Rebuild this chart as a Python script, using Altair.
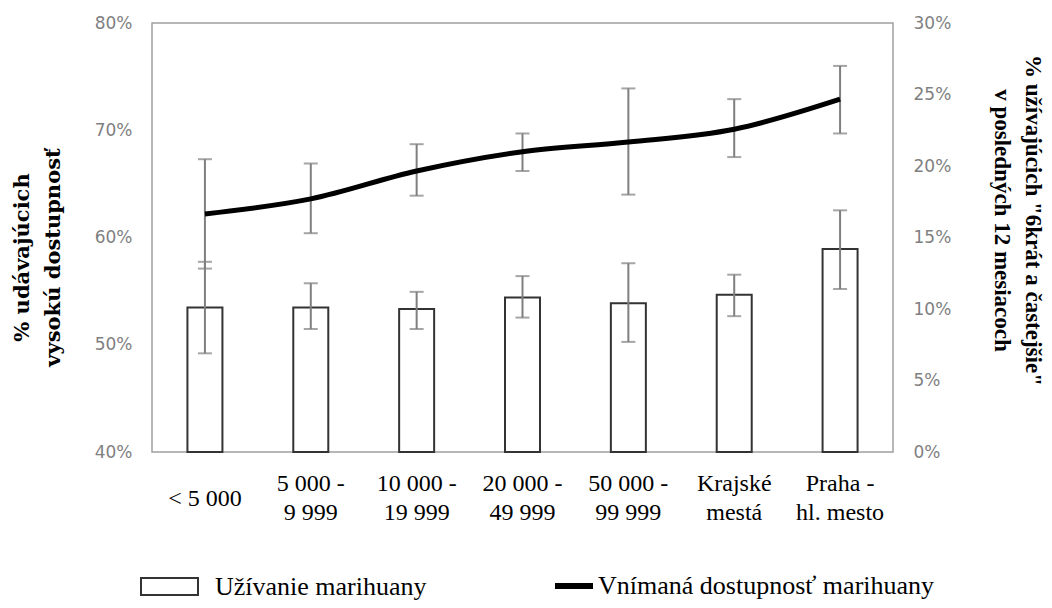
import altair as alt
import pandas as pd

categories = ["< 5 000", "5 000 -\n9 999", "10 000 -\n19 999", "20 000 -\n49 999",
              "50 000 -\n99 999", "Krajské\nmestá", "Praha -\nhl. mesto"]
usage = [10.1, 10.1, 10.0, 10.8, 10.4, 11.0, 14.2]
usage_lo = [6.9, 8.6, 8.6, 9.4, 7.7, 9.5, 11.4]
usage_hi = [13.3, 11.8, 11.2, 12.3, 13.2, 12.4, 16.9]
avail = [62.2, 63.6, 66.2, 68.0, 68.9, 70.1, 72.9]
avail_lo = [57.1, 60.4, 63.9, 66.2, 64.0, 67.5, 69.7]
avail_hi = [67.3, 66.9, 68.7, 69.7, 73.9, 72.9, 76.0]
series_usage = "Užívanie marihuany"
series_avail = "Vnímaná dostupnosť marihuany"
left_title = ["% udávajúcich", "vysokú dostupnosť"]
right_title = ['% užívajúcich "6krát a častejšie"', "v posledných 12 mesiacoch"]
left_ticks = [0.4, 0.5, 0.6, 0.7, 0.8]
right_ticks = [0.0, 0.05, 0.10, 0.15, 0.20, 0.25, 0.30]

df = pd.DataFrame({
    "cat": categories,
    "usage": [v / 100 for v in usage],
    "usage_lo": [v / 100 for v in usage_lo],
    "usage_hi": [v / 100 for v in usage_hi],
    "avail": [v / 100 for v in avail],
    "avail_lo": [v / 100 for v in avail_lo],
    "avail_hi": [v / 100 for v in avail_hi],
    "s1": [series_usage] * len(categories),
    "s2": [series_avail] * len(categories),
})

GRAY = "#7f7f7f"
ERR_W = 2
CAP = 14

x_enc = alt.X("cat:N", sort=categories,
              scale=alt.Scale(paddingInner=0, paddingOuter=0),
              axis=alt.Axis(title=None, labelAngle=0, labelFont="Liberation Serif",
                            labelFontSize=24, labelColor="black", labelLineHeight=29,
                            labelBaseline="middle",
                            labelPadding={"condition": {"test": "indexof(datum.value, '\\n') < 0",
                                                        "value": 46},
                                          "value": 31},
                            ticks=False, tickSize=0, domain=False, labelLimit=300,
                            labelExpr="split(datum.label, '\\n')"))

right_axis = alt.Axis(orient="right", values=right_ticks, format=".0%", grid=False,
                      ticks=False, tickSize=0, domain=False, labelFont="DejaVu Sans",
                      labelFontSize=17, labelColor=GRAY, labelPadding=20,
                      title=right_title, titleFont="Liberation Serif", titleFontSize=23,
                      titleFontWeight="bold", titleColor="black", titleAngle=90,
                      titleAlign="center", titleBaseline="top", titleLineHeight=31,
                      titleX=150, titleY=197)
left_axis = alt.Axis(orient="left", values=left_ticks, format=".0%", grid=False,
                     ticks=False, tickSize=0, domain=False, labelFont="DejaVu Sans",
                     labelFontSize=17, labelColor=GRAY, labelPadding=20,
                     title=left_title, titleFont="DejaVu Serif", titleFontSize=21,
                     titleFontWeight="bold", titleColor="black", titleAngle=-90,
                     titleAlign="center", titleBaseline="top", titleLineHeight=31,
                     titleX=-141, titleY=234)

r_scale = alt.Scale(domain=[0, 0.3])
l_scale = alt.Scale(domain=[0.4, 0.8])

base = alt.Chart(df)

bars = base.mark_bar(size=35, stroke="#333333", strokeWidth=2).encode(
    x=x_enc,
    y=alt.Y("usage:Q", scale=r_scale, axis=right_axis),
    fill=alt.Fill("s1:N", scale=alt.Scale(domain=[series_usage], range=["white"]),
                  legend=alt.Legend(title=None, orient="none", legendX=-12, legendY=534,
                                    symbolType="M-1,-0.3H1V0.3H-1Z", symbolSize=3249,
                                    symbolStrokeColor="#333333", symbolStrokeWidth=2,
                                    symbolFillColor="white", labelFont="Liberation Serif",
                                    labelFontSize=26, labelColor="black", labelOffset=16,
                                    labelLimit=600, padding=0)),
)
bar_rule = base.mark_rule(color=GRAY, strokeWidth=ERR_W).encode(
    x=x_enc, y=alt.Y("usage_lo:Q", scale=r_scale, axis=right_axis), y2="usage_hi:Q")
bar_cap_lo = base.mark_tick(color=GRAY, thickness=ERR_W, size=CAP).encode(
    x=x_enc, y=alt.Y("usage_lo:Q", scale=r_scale, axis=right_axis))
bar_cap_hi = base.mark_tick(color=GRAY, thickness=ERR_W, size=CAP).encode(
    x=x_enc, y=alt.Y("usage_hi:Q", scale=r_scale, axis=right_axis))

line_rule = base.mark_rule(color=GRAY, strokeWidth=ERR_W).encode(
    x=x_enc, y=alt.Y("avail_lo:Q", scale=l_scale, axis=left_axis), y2="avail_hi:Q")
line_cap_lo = base.mark_tick(color=GRAY, thickness=ERR_W, size=CAP).encode(
    x=x_enc, y=alt.Y("avail_lo:Q", scale=l_scale, axis=left_axis))
line_cap_hi = base.mark_tick(color=GRAY, thickness=ERR_W, size=CAP).encode(
    x=x_enc, y=alt.Y("avail_hi:Q", scale=l_scale, axis=left_axis))
line = base.mark_line(strokeWidth=5, interpolate="monotone").encode(
    x=x_enc,
    y=alt.Y("avail:Q", scale=l_scale, axis=left_axis),
    stroke=alt.Stroke("s2:N", scale=alt.Scale(domain=[series_avail], range=["black"]),
                      legend=alt.Legend(title=None, orient="none", legendX=400, legendY=541,
                                        symbolType="stroke", symbolSize=1444,
                                        symbolStrokeWidth=6, symbolStrokeColor="black",
                                        labelFont="Liberation Serif", labelFontSize=26,
                                        labelColor="black", labelOffset=2,
                                        labelLimit=600, padding=0)),
)

bar_layer = alt.layer(bars, bar_rule, bar_cap_lo, bar_cap_hi)
line_layer = alt.layer(line_rule, line_cap_lo, line_cap_hi, line)

chart = alt.layer(bar_layer, line_layer).resolve_scale(y="independent").properties(
    width=741, height=429,
    autosize=alt.AutoSizeParams(type="none"),
    padding={"left": 144, "top": 15, "right": 151, "bottom": 148},
    background="white",
).configure_view(stroke="#a0a0a0", strokeWidth=1.5)

chart.save("out.html", embed_options={"renderer": "svg", "actions": False})
